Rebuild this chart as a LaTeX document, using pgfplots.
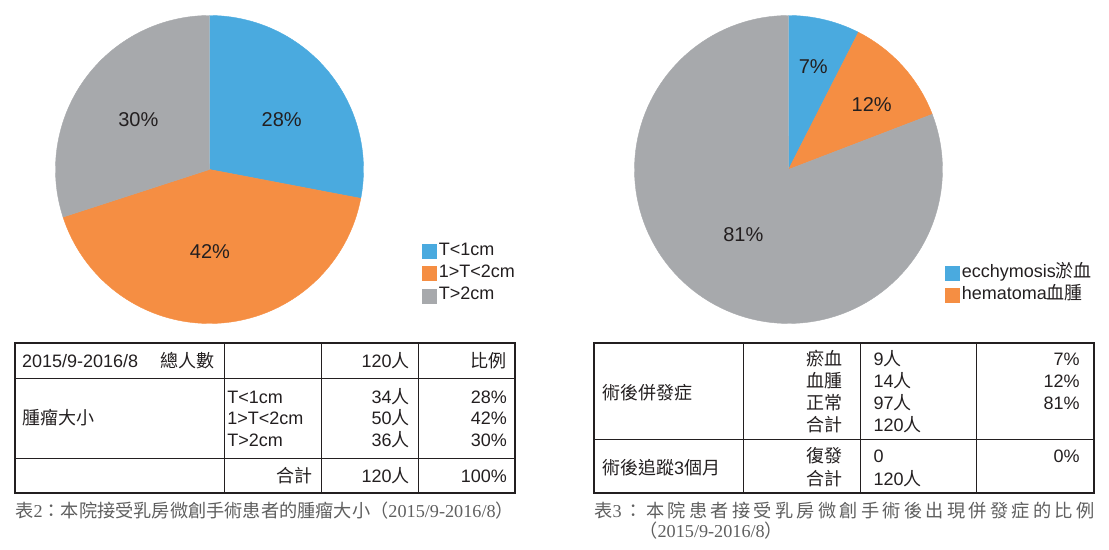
\documentclass[border=0pt]{standalone}
\usepackage{fontspec}
\setmainfont{Liberation Sans}
\newfontfamily\cjk{Noto Sans CJK TC}
\newfontfamily\serifnum{Liberation Serif}
\usepackage{pgfplots}
\pgfplotsset{compat=1.18}
\usepackage{pgfplotstable}
\definecolor{pblue}{RGB}{74,170,223}
\definecolor{porange}{RGB}{245,142,67}
\definecolor{pgray}{RGB}{167,169,172}
\definecolor{ink}{RGB}{35,31,32}
\definecolor{capgray}{RGB}{95,95,95}

% tumour size (percent of 120 patients)
\pgfplotstableread{
slice percent
1 28
2 42
3 30
}\sizetable
% complications (counts of 120 patients)
\pgfplotstableread{
slice count
1 9
2 14
3 97
}\comptable

\pgfplotsset{
  pieaxis/.style={hide axis, scale only axis, width=154pt, height=154pt,
    xmin=-1, xmax=1, ymin=-1, ymax=1, clip=false, anchor=center,
    legend image code/.code={\fill[##1] (0pt,-3.5pt) rectangle (7pt,3.5pt);},
    legend cell align=left,
    legend style={draw=none, fill=none, inner sep=0pt, outer sep=0pt,
      row sep=0pt, text=ink, font=\fontsize{9}{11}\selectfont,
      nodes={inner xsep=1.2pt, inner ysep=0pt, text height=7.6pt, text depth=3.55pt}}},
}
\newcommand\pieslice[3]{%
  \addplot[fill=#1, draw=#1, line width=0.2pt, domain=#2:#3, samples=120, variable=\t]
    ({cos(\t)},{sin(\t)}) -- (axis cs:0,0) -- cycle;}

\begin{document}
\begin{tikzpicture}
\path[use as bounding box] (0pt,0pt) rectangle (554.5pt,-275pt);
% angles of the left pie
\pgfplotstablegetelem{0}{percent}\of\sizetable \let\pA\pgfplotsretval
\pgfplotstablegetelem{1}{percent}\of\sizetable \let\pB\pgfplotsretval
\pgfplotstablegetelem{2}{percent}\of\sizetable \let\pC\pgfplotsretval
\pgfmathsetmacro\lA{90-\pA/(\pA+\pB+\pC)*360}
\pgfmathsetmacro\lB{\lA-\pB/(\pA+\pB+\pC)*360}
\pgfmathsetmacro\lC{\lB-\pC/(\pA+\pB+\pC)*360}
% angles of the right pie
\pgfplotstablegetelem{0}{count}\of\comptable \let\cA\pgfplotsretval
\pgfplotstablegetelem{1}{count}\of\comptable \let\cB\pgfplotsretval
\pgfplotstablegetelem{2}{count}\of\comptable \let\cC\pgfplotsretval
\pgfmathsetmacro\rA{90-\cA/(\cA+\cB+\cC)*360}
\pgfmathsetmacro\rB{\rA-\cB/(\cA+\cB+\cC)*360}
\pgfmathsetmacro\rC{\rB-\cC/(\cA+\cB+\cC)*360}

\begin{axis}[pieaxis, at={(104.75pt,-84.75pt)},
  legend style={at={(1.19,0.271)}, anchor=north west}]
  \pieslice{pblue}{\lA}{90}
  \pieslice{porange}{\lB}{\lA}
  \pieslice{pgray}{\lC}{\lB}
  \addlegendentry{T<1cm}
  \addlegendentry{1>T<2cm}
  \addlegendentry{T>2cm}
\end{axis}

\begin{axis}[pieaxis, at={(394.25pt,-84.75pt)},
  legend style={at={(1.008,0.200)}, anchor=north west}]
  \pieslice{pblue}{\rA}{90}
  \pieslice{porange}{\rB}{\rA}
  \pieslice{pgray}{\rC}{\rB}
  \addlegendentry{ecchymosis{\cjk 淤血}}
  \addlegendentry{hematoma{\cjk 血腫}}
\end{axis}

\begin{scope}[x=0.5pt,y=-0.5pt]
% pie labels
\begin{scope}[every node/.style={font=\fontsize{10}{12}\selectfont, text=ink, inner sep=0pt}]
\node at (281.7,120) {28\%};
\node at (210,251.7) {42\%};
\node at (138.3,120) {30\%};
\node at (813.3,66.7) {7\%};
\node at (871.7,105) {12\%};
\node at (743.3,234.3) {81\%};
\end{scope}

% table 1
\draw[ink, line width=0.5pt] (15,378.5) -- (515,378.5) (15,458.5) -- (515,458.5)
  (224.5,343) -- (224.5,493) (321.5,343) -- (321.5,493) (418.5,343) -- (418.5,493);
\draw[ink, line width=1pt] (15,343) rectangle (515,493);
\begin{scope}[every node/.style={font=\fontsize{9}{10}\selectfont, text=ink, inner sep=0pt}]
\node[anchor=base west] at (21.7,367.5) {2015/9-2016/8};
\node[anchor=base west] at (160,367.5) {\cjk 總人數};
\node[anchor=base east] at (410,367.5) {120{\cjk 人}};
\node[anchor=base east] at (507.3,367.5) {\cjk 比例};
\node[anchor=base west] at (21.7,425) {\cjk 腫瘤大小};
\node[anchor=base west] at (227,403.3) {T<1cm};
\node[anchor=base west] at (227,425) {1>T<2cm};
\node[anchor=base west] at (227,446.7) {T>2cm};
\node[anchor=base east] at (410,403.3) {34{\cjk 人}};
\node[anchor=base east] at (410,425) {50{\cjk 人}};
\node[anchor=base east] at (410,446.7) {36{\cjk 人}};
\node[anchor=base east] at (507.3,403.3) {28\%};
\node[anchor=base east] at (507.3,425) {42\%};
\node[anchor=base east] at (507.3,446.7) {30\%};
\node[anchor=base east] at (313.3,483) {\cjk 合計};
\node[anchor=base east] at (410,483) {120{\cjk 人}};
\node[anchor=base east] at (507.3,483) {100\%};
\end{scope}

% table 2
\draw[ink, line width=0.5pt] (594,440) -- (1094,440)
  (743.5,343.5) -- (743.5,493.5) (860.5,343.5) -- (860.5,493.5) (976.5,343.5) -- (976.5,493.5);
\draw[ink, line width=1pt] (594,343.5) rectangle (1094,493.5);
\begin{scope}[every node/.style={font=\fontsize{9}{10}\selectfont, text=ink, inner sep=0pt}]
\node[anchor=base west] at (601.7,399.5) {\cjk 術後併發症};
\node[anchor=base west] at (601.7,475) {{\cjk 術後追蹤}3{\cjk 個月}};
\node[anchor=base east] at (843.3,366) {\cjk 瘀血};
\node[anchor=base east] at (843.3,388) {\cjk 血腫};
\node[anchor=base east] at (843.3,410) {\cjk 正常};
\node[anchor=base east] at (843.3,431.7) {\cjk 合計};
\node[anchor=base east] at (843.3,462.7) {\cjk 復發};
\node[anchor=base east] at (843.3,485.5) {\cjk 合計};
\node[anchor=base west] at (873.3,366) {9{\cjk 人}};
\node[anchor=base west] at (873.3,388) {14{\cjk 人}};
\node[anchor=base west] at (873.3,410) {97{\cjk 人}};
\node[anchor=base west] at (873.3,431.7) {120{\cjk 人}};
\node[anchor=base west] at (873.3,462.7) {0};
\node[anchor=base west] at (873.3,485.5) {120{\cjk 人}};
\node[anchor=base east] at (1080,366) {7\%};
\node[anchor=base east] at (1080,388) {12\%};
\node[anchor=base east] at (1080,410) {81\%};
\node[anchor=base east] at (1080,462.7) {0\%};
\end{scope}

% captions
\begin{scope}[every node/.style={font=\fontsize{9.1}{10}\selectfont\cjk, text=capgray, inner sep=0pt}]
\node[anchor=base west] at (15,517) {表{\serifnum 2}：本院接受乳房微創手術患者的腫瘤大小（{\serifnum 2015/9-2016/8}）};
\node[anchor=base west] at (594,517) {\makebox[250pt][s]{表{\serifnum 3}\hfil：\hfil 本\hfil 院\hfil 患\hfil 者\hfil 接\hfil 受\hfil 乳\hfil 房\hfil 微\hfil 創\hfil 手\hfil 術\hfil 後\hfil 出\hfil 現\hfil 併\hfil 發\hfil 症\hfil 的\hfil 比\hfil 例}};
\node[anchor=base west] at (639,538) {（{\serifnum 2015/9-2016/8}）};
\end{scope}
\end{scope}
\end{tikzpicture}
\end{document}
